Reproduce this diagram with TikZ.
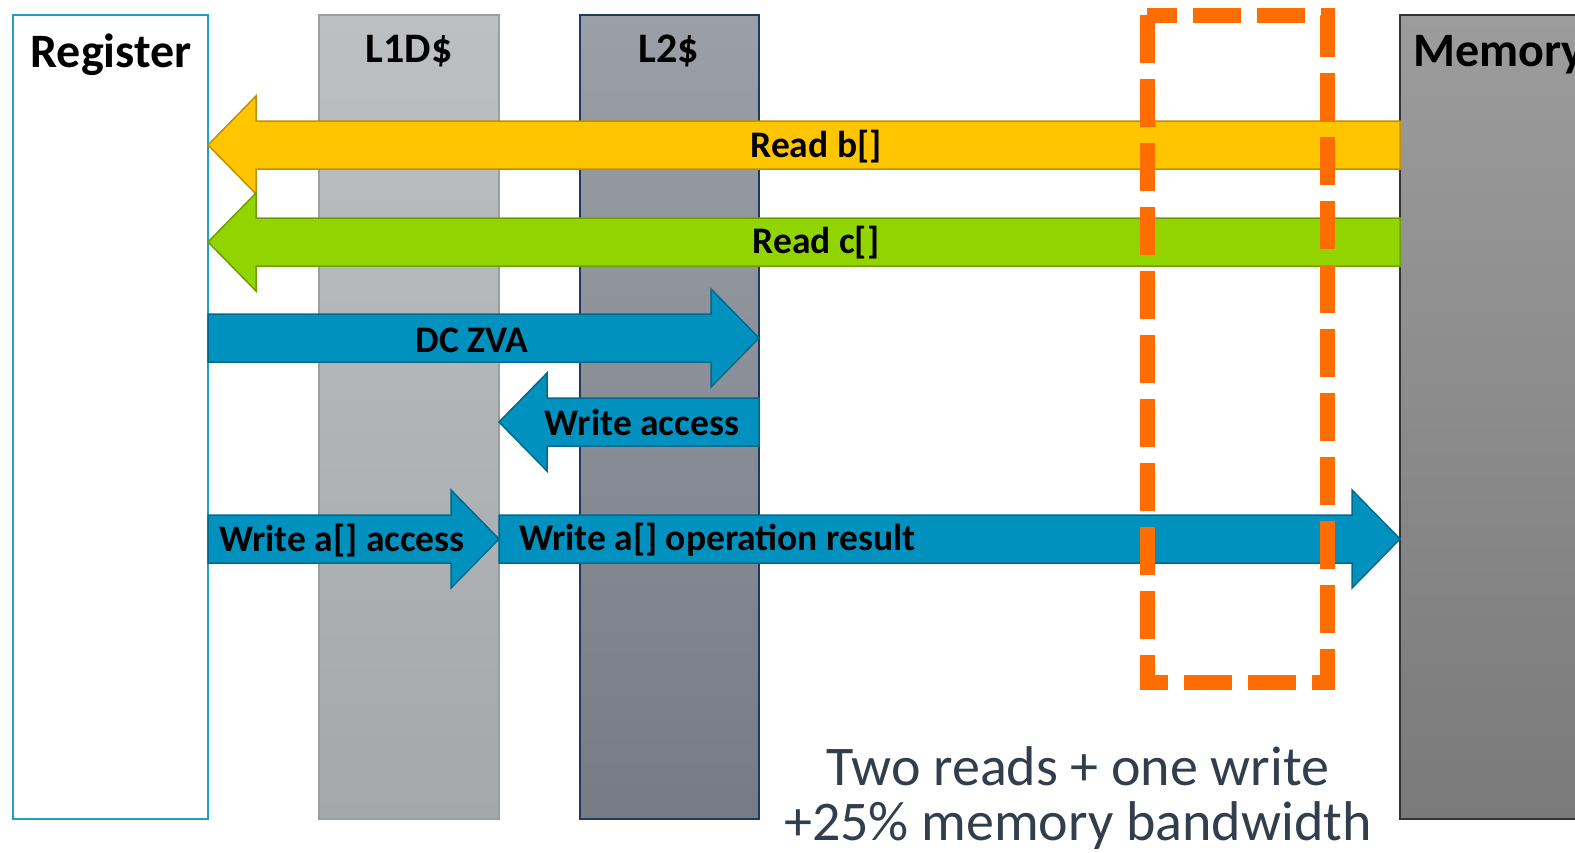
\documentclass[tikz,border=0pt]{standalone}
\usepackage{fontspec}
\setmainfont{Carlito}
\begin{document}
\begin{tikzpicture}[x=1pt,y=-1pt,
  col/.style={line width=1.5pt},
  lbl/.style={font=\bfseries\fontsize{37.5}{40}\selectfont, text=black, inner sep=0pt},
  hdr/.style={font=\bfseries\fontsize{42}{46}\selectfont, text=black, inner sep=0pt},
  note/.style={font=\fontsize{56}{60}\selectfont, text=notecol, inner sep=0pt}]
\definecolor{regblue}{HTML}{1E9FC8}
\definecolor{ylw}{HTML}{FFC600}
\definecolor{ylwb}{HTML}{BF9000}
\definecolor{grn}{HTML}{92D400}
\definecolor{grnb}{HTML}{6E9F00}
\definecolor{blu}{HTML}{0091BF}
\definecolor{blub}{HTML}{006A8C}
\definecolor{orng}{HTML}{FF6C00}
\definecolor{notecol}{HTML}{333E4D}
\definecolor{lonetop}{HTML}{BCC0C3}
\definecolor{lonebot}{HTML}{A4A8AB}
\definecolor{lonebd}{HTML}{9A9EA2}
\definecolor{ltwotop}{HTML}{9B9FA7}
\definecolor{ltwobot}{HTML}{767B86}
\definecolor{ltwobd}{HTML}{1F3A5A}
\definecolor{memtop}{HTML}{9C9C9C}
\definecolor{membot}{HTML}{7A7A7A}
\newcommand\barrow[6]{% fill, border, tail x, tip x, center y, head length (signed)
  \filldraw[fill=#1, draw=#2, line width=1.5pt, line join=miter]
    (#3,{#5-24}) -- ({#4-#6},{#5-24}) -- ({#4-#6},{#5-49}) -- (#4,#5)
    -- ({#4-#6},{#5+49}) -- ({#4-#6},{#5+24}) -- (#3,{#5+24}) -- cycle;}
\useasboundingbox (0,0) rectangle (1575,852);
\clip (0,0) rectangle (1575,852);
% columns
\draw[col, draw=regblue, fill=white] (13,15) rectangle (208,819);
\draw[col, draw=lonebd, top color=lonetop, bottom color=lonebot]
  (319,15) rectangle (499,819);
\draw[col, draw=ltwobd, top color=ltwotop, bottom color=ltwobot]
  (580,15) rectangle (759,819);
\shade[top color=memtop, bottom color=membot] (1400,15) rectangle (1600,819);
\draw[col, draw=black!80] (1600,15) -- (1400,15) -- (1400,819) -- (1600,819);
\node[hdr, font=\bfseries\fontsize{48}{52}\selectfont] (reg) at (111,55) {Register};
\node[hdr] (l1) at (409,51) {L1D\$};
\node[hdr] (l2) at (669,51) {L2\$};
\node[hdr, font=\bfseries\fontsize{48}{52}\selectfont, anchor=west] (mem) at (1413,55) {Memory};
% arrows
\barrow{ylw}{ylwb}{1400}{208}{145}{-48}
\barrow{grn}{grnb}{1400}{208}{242}{-48}
\barrow{blu}{blub}{208}{759}{338}{48}
\barrow{blu}{blub}{759}{499}{422}{-48}
\barrow{blu}{blub}{208}{499}{539}{48}
\barrow{blu}{blub}{499}{1400}{539}{48}
\node[lbl] (rb) at (816,147) {Read b[]};
\node[lbl] (rc) at (816,243) {Read c[]};
\node[lbl] (zva) at (472,340) {DC ZVA};
\node[lbl] (wacc) at (642,422) {Write access};
\node[lbl] (waa) at (342,541) {Write a[] access};
\node[lbl, anchor=west] (war) at (519,540) {Write a[] operation result};
% orange dashed box
\draw[orng, line width=15pt, dash pattern=on 48pt off 16pt] (1147,15) rectangle (1327,682);
% note
\node[note] (n1) at (1078,766) {Two reads + one write};
\node[note] (n2) at (1078,826) {+25\% memory bandwidth};
\end{tikzpicture}
\end{document}
